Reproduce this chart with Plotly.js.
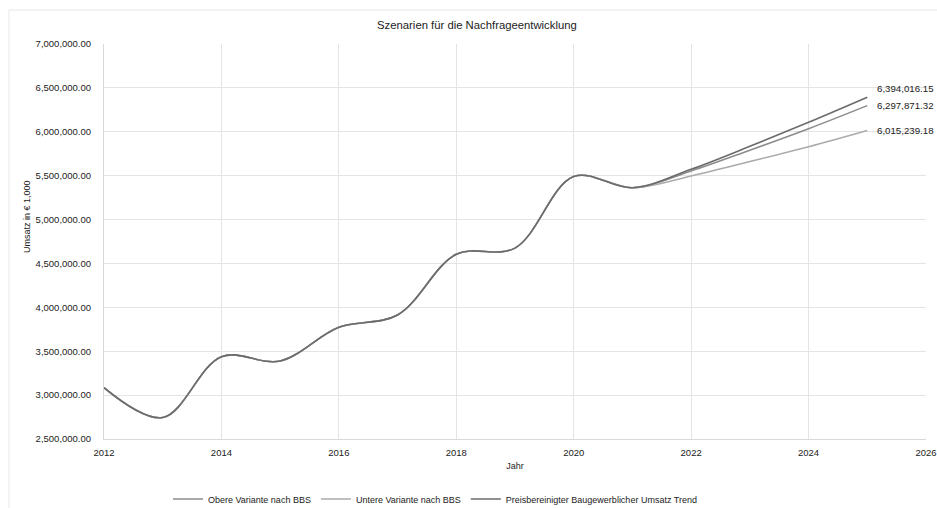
<!DOCTYPE html>
<html>
<head>
<meta charset="utf-8">
<script src="https://cdn.plot.ly/plotly-3.0.1.min.js"></script>
<style>
html,body{margin:0;padding:0;background:#fff;}
#chart{width:937px;height:508px;}
</style>
</head>
<body>
<div id="chart"></div>
<script>
// ---- data ----
const years = [2012, 2013, 2014, 2015, 2016, 2017, 2018, 2019, 2020, 2021, 2022, 2023, 2024, 2025];
const obereVariante = [3085000, 2745000, 3438000, 3389000, 3773000, 3913000, 4604000, 4675000, 5490000, 5363000, 5554000, 5790000, 6035000, 6297871.32];
const untereVariante = [3085000, 2745000, 3438000, 3389000, 3773000, 3913000, 4604000, 4675000, 5490000, 5363000, 5497000, 5661000, 5830000, 6015239.18];
const umsatzTrend = [3085000, 2745000, 3438000, 3389000, 3773000, 3913000, 4604000, 4675000, 5490000, 5363000, 5573000, 5834000, 6108000, 6394016.15];
const seriesNames = ["Obere Variante nach BBS", "Untere Variante nach BBS", "Preisbereinigter Baugewerblicher Umsatz Trend"];
const titleText = "Szenarien für die Nachfrageentwicklung";
const xTitle = "Jahr";
const yTitle = "Umsatz in € 1,000";

// ---- styling ----
const colors = ["#8c8c8c", "#ababab", "#6b6b6b"];
const font = "'Liberation Sans', Arial, sans-serif";
const allSeries = [obereVariante, untereVariante, umsatzTrend];

const traces = allSeries.map((vals, i) => ({
  x: years,
  y: vals,
  name: seriesNames[i],
  type: "scatter",
  mode: "lines",
  line: {color: colors[i], width: 1.6, shape: "spline", smoothing: 1},
  hoverinfo: "x+y+name"
}));

function fmt(v) {
  return v.toLocaleString("en-US", {minimumFractionDigits: 2, maximumFractionDigits: 2});
}
const labelShift = [0, 0, 9];
const annotations = allSeries.map((vals, i) => ({
  x: years[years.length - 1],
  y: vals[vals.length - 1],
  xref: "x", yref: "y",
  text: fmt(vals[vals.length - 1]),
  showarrow: false,
  xanchor: "left",
  yanchor: "middle",
  xshift: 8,
  yshift: labelShift[i],
  font: {family: font, size: 9.7, color: "#222"}
}));
// y-axis title (placed as rotated text, as in the reference)
annotations.push({
  xref: "paper", yref: "paper",
  x: (27 - 104) / 822, y: (439 - 217) / 395,
  xanchor: "center", yanchor: "middle",
  text: yTitle,
  textangle: -90,
  showarrow: false,
  font: {family: font, size: 9, color: "#222"}
});

const layout = {
  width: 937,
  height: 508,
  paper_bgcolor: "#fff",
  plot_bgcolor: "#fff",
  margin: {l: 104, r: 11, t: 44, b: 69, autoexpand: false},
  font: {family: font, size: 10, color: "#222"},
  title: {
    text: titleText,
    font: {family: font, size: 11.3, color: "#222"},
    xref: "container", x: 0.509, xanchor: "center",
    yref: "container", y: 1 - 25 / 508, yanchor: "middle"
  },
  xaxis: {
    range: [2012, 2026.0001],
    dtick: 2,
    tick0: 2012,
    tickformat: "d",
    showgrid: true,
    gridcolor: "#e4e4e4",
    gridwidth: 1,
    zeroline: false,
    showline: true,
    linecolor: "#d9d9d9",
    ticks: "",
    ticklabelstandoff: 5,
    tickfont: {family: font, size: 9.5, color: "#222"},
    title: {text: xTitle, font: {family: font, size: 9, color: "#222"}, standoff: 5},
    automargin: false
  },
  yaxis: {
    range: [2500000, 7000000],
    dtick: 500000,
    tick0: 2500000,
    tickformat: ",.2f",
    showgrid: true,
    gridcolor: "#e4e4e4",
    gridwidth: 1,
    zeroline: false,
    showline: true,
    linecolor: "#d9d9d9",
    ticks: "",
    ticklabelstandoff: 10,
    tickfont: {family: font, size: 9.5, color: "#222"},
    automargin: false
  },
  showlegend: true,
  legend: {
    orientation: "h",
    x: (435 - 104) / 822,
    xanchor: "center",
    y: -0.152,
    yanchor: "middle",
    font: {family: font, size: 9, color: "#222"},
    bgcolor: "rgba(0,0,0,0)",
    itemwidth: 30,
    traceorder: "normal"
  },
  annotations: annotations,
  shapes: [{
    type: "rect",
    xref: "paper", yref: "paper",
    x0: (9 - 104) / 822, x1: 1.2,
    y0: -0.3, y1: 1 + 34 / 395,
    line: {color: "#e8e8e8", width: 1},
    fillcolor: "rgba(0,0,0,0)",
    layer: "below"
  }]
};

Plotly.newPlot("chart", traces, layout, {displayModeBar: false, staticPlot: true});
</script>
</body>
</html>
